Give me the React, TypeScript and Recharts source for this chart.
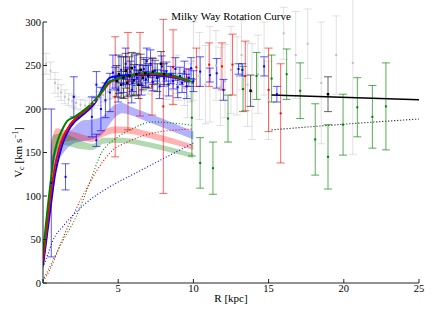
import React from 'react';
import { ComposedChart, XAxis, YAxis, Line, Area, Scatter, ErrorBar } from 'recharts';

// ---------- data ----------
const xTicks = [0, 5, 10, 15, 20, 25];
const xLabelTicks = [5, 10, 15, 20, 25];
const yTicks = [0, 50, 100, 150, 200, 250, 300];

// total rotation curves [R, V]
const greenTotal = [[0,35],[0.3,85],[0.5,115],[0.7,143],[1.0,165],[1.3,177],[1.6,186],[2.1,191],[2.9,201],[3.5,211],[4.0,222],[4.3,230],[4.8,234],[5.5,237],[6.5,241],[7.5,241],[8.5,239],[9.3,235],[10,230]];
const redTotal = [[0,25],[0.3,70],[0.5,100],[0.7,125],[0.9,143],[1.3,166],[1.8,182],[2.9,199],[3.5,210],[4.0,221],[4.4,230],[4.9,234],[5.5,237],[6.5,240],[7.5,240],[8.5,238],[9.3,234],[10,230]];
const blueTotal = [[0,20],[0.3,60],[0.6,100],[0.8,125],[1.0,141],[1.45,167],[1.85,180],[2.9,197],[3.5,208],[3.8,218],[4.1,228],[4.45,236],[5.0,238],[6,239],[7,239],[8,238],[9,235],[10,230]];
const outerFit = [[15.2,216],[25,210.5]];

// baryonic bands [R, low, high]
const blueBand = [[0.55,125,145],[1.0,140,159],[1.33,149,168],[2.0,160,178],[2.66,163,187],[3.3,165,188],[4.0,172,192],[4.4,182,199],[4.77,190,205],[5.3,195,207],[5.8,193,203],[7,185,195],[8.5,175,185],[10,165,174]];
const redBand = [[0.5,125,160],[0.9,158,178],[1.5,163,176],[2.2,164,173],[3.3,162,168],[4.0,168,176],[4.77,172,180],[5.3,172,180],[7,167,174],[8.5,160,167],[10,153,159]];
const greenBand = [[0.5,120,150],[0.7,140,170],[1.33,159,172],[2.2,155,166],[3.3,153,160],[4.0,160,167],[4.77,161,167],[5.3,161,167],[7,156,162],[8.5,150,156],[10,143.5,149]];

// halo curves (dotted) [R, V]
const greenHalo = [[0,3],[0.66,26],[1.33,49],[2.2,76],[3.1,115],[3.9,150],[4.45,161],[5,168],[6,178],[7.3,185],[8.5,184],[10,181]];
const redHalo = [[0,2],[0.45,15],[1.33,52],[2.2,85],[3.1,115],[4,140],[4.65,153],[5.5,161],[6.45,168],[7.5,173],[8.9,176],[10,177]];
const blueHalo = [[0,18],[0.3,32],[0.66,49],[1.33,65],[2,78],[2.86,92],[4,106],[5,116],[6,125],[7,134],[8,143],[9,152],[10,161]];
const outerHalo = [[15.2,176],[20,182.5],[25,188.5]];

// measurements [R, V, err]
const grayPts = [[0.2,252,12],[0.5,244,10],[0.8,230,12],[1.0,224,10],[1.2,219,9],[1.45,214,8],[1.7,211,7],[1.95,209,7],[2.2,207,7],[2.5,205,6],[2.8,204,6],[3.1,206,7],[3.4,208,7],[3.7,212,8],[4.0,216,8],[4.3,220,9],
  [4.6,222,10],[5.0,228,12],[5.4,225,10],[5.8,230,12],[6.2,226,10],[6.6,232,12],[7.0,229,12],[7.4,234,14],[7.8,230,14],[8.2,226,15],[8.6,222,16],[8.9,240,22],[9.0,228,18],[9.4,224,20],[9.6,215,25],[9.8,230,22],
  [10.0,255,45],[10.4,238,50],[10.8,228,45],[11.1,240,55],[11.5,250,40],[11.8,226,45],[12.1,232,42],[12.5,245,50],[12.9,238,45],[13.2,262,40],[13.6,228,48],[13.9,220,55],[14.3,240,45],[14.7,258,42],[15.0,210,45],[16.0,287,30],[16.8,262,50],[17.6,275,40],[18.5,230,70],[19.5,262,45],[20.6,253,105]];
const bluePts = [[0.55,115,85],[1.5,122,15],[2.05,214,23],[3.25,191,23],[3.55,164,7],[3.55,228,15],[3.85,200,25],[4.15,210,20],[4.45,219,22],[4.65,242,20],[4.8,236,12],[5.0,222,14],[5.2,245,15],[5.35,229,10],[5.5,252,18],[5.6,238,10],[5.8,243,12],[5.9,222,15],[5.95,230,10],[6.1,248,14],[6.25,236,9],[6.4,241,10],[6.55,228,12],[6.7,246,13],[6.85,234,9],[6.9,255,15],[7.0,240,10],[7.15,252,16],[7.3,231,10],[7.45,244,12],[7.6,237,8],[7.75,226,14],[7.9,249,12],[8.05,235,9],[8.2,243,11],[8.35,228,13],[8.5,239,10],[8.65,232,9],[8.8,246,13],[8.95,225,12],[9.1,238,10],[9.25,230,11],[9.4,243,12],[9.55,226,14],[9.7,236,10],[9.85,247,12],[10.0,232,12],[10.45,243,17],[11.1,239,8],[11.55,241,17],[12.0,222,12],[13.0,246,6],[13.25,245,7],[14.7,249,11],[15.55,217,9]];
const blackPts = [[4.9,232,18],[5.05,240,22],[5.2,228,15],[5.35,236,24],[5.5,244,20],[5.6,230,16],[5.75,238,22],[5.9,247,18],[6.05,233,18],[6.2,240,24],[6.35,228,16],[6.5,245,18],[6.65,236,14],[6.8,241,16],[7.0,238,14],[7.3,243,15],[7.6,236,16],[7.85,252,14],[8.05,240,12],[13.8,221,18],[18.95,217,20]];
const redPts = [[4.8,214,69],[5.65,232,56],[6.45,240,48],[7.25,226,33],[8.0,203,100],[8.65,248,43],[9.55,236,10],[10.2,248,22],[11.05,251,25],[11.9,249,27],[12.6,251,35],[13.45,238,40],[15.0,222,48],[15.8,195,57]];
const greenPts = [[9.9,190,44],[10.45,138,29],[11.3,132,30],[12.3,189,27],[13.3,223,26],[14.2,238,27],[15.2,235,27],[16.2,240,29],[17.1,221,32],[18.1,165,41],[18.95,145,37],[19.95,182,35],[20.9,202,34],[21.9,191,36],[22.8,203,50]];

// ---------- helpers ----------
const curve = (a: number[][]) => a.map(([x, y]) => ({ x, y }));
const band = (a: number[][]) => a.map(([x, lo, hi]) => ({ x, r: [lo, hi] }));
const pts = (a: number[][]) => a.map(([x, y, e]) => ({ x, y, e }));

const FONT = "'Liberation Serif', 'DejaVu Serif', serif";
const AXIS = '#222';
const TXT = { fontFamily: FONT } as React.CSSProperties;

const BottomTick = (p: any) => (
  <g>
    <line x1={p.x} y1={p.y} x2={p.x} y2={p.y - 4} stroke={AXIS} />
    {xLabelTicks.includes(p.payload.value) ? (
      <text x={p.x} y={p.y + 8.7} textAnchor="middle" fontSize={10.5} style={TXT} fill="#000">{p.payload.value}</text>
    ) : null}
  </g>
);
const TopTick = (p: any) => <line x1={p.x} y1={p.y} x2={p.x} y2={p.y + 4} stroke={AXIS} />;
const LeftTick = (p: any) => (
  <g>
    <line x1={p.x} y1={p.y} x2={p.x + 4} y2={p.y} stroke={AXIS} />
    <text x={p.x - 2} y={p.y + 3.6} textAnchor="end" fontSize={10.5} style={TXT} fill="#000">{p.payload.value}</text>
  </g>
);
const RightTick = (p: any) => <line x1={p.x - 4} y1={p.y} x2={p.x} y2={p.y} stroke={AXIS} />;

const mk = (fill: string, s = 2) => (p: any) =>
  p.cx == null ? <g /> : <rect x={p.cx - s / 2} y={p.cy - s / 2} width={s} height={s} fill={fill} />;

const XLabel = () => (
  <text x={231} y={302} textAnchor="middle" fontSize={11} style={TXT} fill="#000">R [kpc]</text>
);
const YLabelAndTitle = () => (
  <g>
    <text x={231} y={19.5} textAnchor="middle" fontSize={11} style={TXT} fill="#000">Milky Way Rotation Curve</text>
    <text x={22} y={152.5} transform="rotate(-90 22 152.5)" textAnchor="middle" fontSize={11} style={TXT} fill="#000">
      V<tspan fontSize={8} dy={2}>c</tspan><tspan dy={-2}> [km s</tspan><tspan fontSize={7.5} dy={-4}>−1</tspan><tspan dy={4}>]</tspan>
    </text>
  </g>
);

export default function App() {
  return (
    <div style={{ position: 'absolute', left: 0, top: 0, background: '#fff' }}>
      <ComposedChart width={436} height={317} margin={{ top: 22, right: 17, bottom: 0, left: 0 }}>
        <XAxis dataKey="x" type="number" domain={[0, 25]} ticks={xTicks} interval={0} allowDataOverflow
          height={34} tickSize={0} tickMargin={0} tickLine={false} tick={<BottomTick />} axisLine={{ stroke: AXIS }}
          label={{ content: <XLabel /> }} />
        <XAxis xAxisId="top" orientation="top" type="number" domain={[0, 25]} ticks={xTicks} interval={0} allowDataOverflow
          height={0} tickSize={0} tickMargin={0} tickLine={false} tick={<TopTick />} axisLine={{ stroke: AXIS }} />
        <YAxis type="number" domain={[0, 300]} ticks={yTicks} interval={0} allowDataOverflow width={43}
          tickSize={0} tickMargin={0} tickLine={false} tick={<LeftTick />} axisLine={{ stroke: AXIS }}
          label={{ content: <YLabelAndTitle /> }} />
        <YAxis yAxisId="right" orientation="right" type="number" domain={[0, 300]} ticks={yTicks} interval={0} allowDataOverflow width={0}
          tickSize={0} tickMargin={0} tickLine={false} tick={<RightTick />} axisLine={{ stroke: AXIS }} />

        <Area data={band(blueBand)} dataKey="r" type="monotone" stroke="none" fill="#0000ff" fillOpacity={0.3} isAnimationActive={false} />
        <Area data={band(redBand)} dataKey="r" type="monotone" stroke="none" fill="#ff0000" fillOpacity={0.3} isAnimationActive={false} />
        <Area data={band(greenBand)} dataKey="r" type="monotone" stroke="none" fill="#008000" fillOpacity={0.3} isAnimationActive={false} />

        <Line data={curve(greenHalo)} dataKey="y" type="monotone" stroke="#008000" strokeWidth={1.1} strokeDasharray="1 2" dot={false} isAnimationActive={false} />
        <Line data={curve(redHalo)} dataKey="y" type="monotone" stroke="#ff0000" strokeWidth={1.1} strokeDasharray="1 2" dot={false} isAnimationActive={false} />
        <Line data={curve(blueHalo)} dataKey="y" type="monotone" stroke="#0000ff" strokeWidth={1.1} strokeDasharray="1 2" dot={false} isAnimationActive={false} />
        <Line data={curve(outerHalo)} dataKey="y" type="monotone" stroke="#000" strokeWidth={1.1} strokeDasharray="1 2" dot={false} isAnimationActive={false} />

        <Scatter data={pts(grayPts)} dataKey="y" shape={mk('#c0c0c0')} isAnimationActive={false}>
          <ErrorBar dataKey="e" direction="y" width={4} stroke="rgba(170,170,170,0.35)" strokeWidth={1} />
        </Scatter>
        <Scatter data={pts(greenPts)} dataKey="y" shape={mk('#008000')} isAnimationActive={false}>
          <ErrorBar dataKey="e" direction="y" width={4} stroke="rgba(0,128,0,0.65)" strokeWidth={1} />
        </Scatter>
        <Scatter data={pts(redPts)} dataKey="y" shape={mk('#ff0000')} isAnimationActive={false}>
          <ErrorBar dataKey="e" direction="y" width={4} stroke="rgba(255,0,0,0.6)" strokeWidth={1} />
        </Scatter>
        <Scatter data={pts(blackPts)} dataKey="y" shape={mk('#000', 2.5)} isAnimationActive={false}>
          <ErrorBar dataKey="e" direction="y" width={4} stroke="rgba(0,0,0,0.6)" strokeWidth={1} />
        </Scatter>
        <Scatter data={pts(bluePts)} dataKey="y" shape={mk('#0000ff')} isAnimationActive={false}>
          <ErrorBar dataKey="e" direction="y" width={4} stroke="rgba(0,0,255,0.65)" strokeWidth={1} />
        </Scatter>

        <Line data={curve(blueTotal)} dataKey="y" type="monotone" stroke="#0000ff" strokeWidth={2} dot={false} isAnimationActive={false} />
        <Line data={curve(redTotal)} dataKey="y" type="monotone" stroke="#ff0000" strokeWidth={2} dot={false} isAnimationActive={false} />
        <Line data={curve(greenTotal)} dataKey="y" type="monotone" stroke="#008000" strokeWidth={2} dot={false} isAnimationActive={false} />
        <Line data={curve(outerFit)} dataKey="y" type="linear" stroke="#000" strokeWidth={1.5} dot={false} isAnimationActive={false} />
      </ComposedChart>
    </div>
  );
}
